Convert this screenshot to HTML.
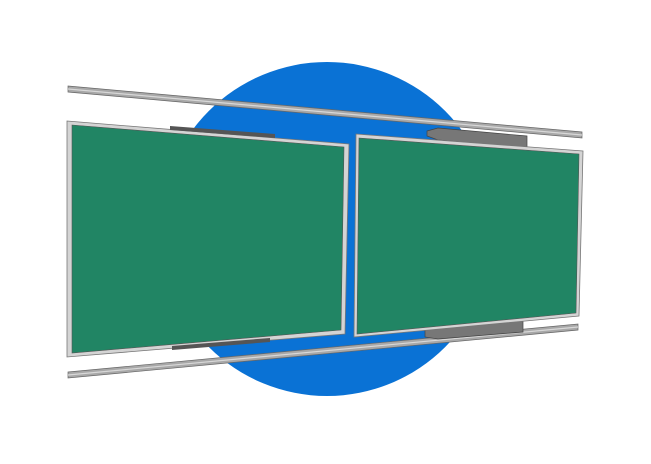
<!DOCTYPE html>
<html><head><style>html,body{margin:0;padding:0;background:#fff}svg{display:block}</style></head>
<body>
<svg width="651" height="464" viewBox="0 0 651 464" xmlns="http://www.w3.org/2000/svg">
<circle cx="327" cy="229" r="167" fill="#0a72d5"/>
<!-- top rail -->
<polygon points="68,86 582,132 582,138 68,92" fill="#a8a8a8" stroke="#666" stroke-width="0.7"/>
<line x1="68" y1="89" x2="582" y2="135" stroke="#d8d8d8" stroke-width="1.2"/>
<!-- bottom rail -->
<polygon points="68,372 578,324 578,330 68,378" fill="#a8a8a8" stroke="#666" stroke-width="0.7"/>
<line x1="68" y1="375" x2="578" y2="327" stroke="#d8d8d8" stroke-width="1.2"/>
<!-- right brackets -->
<polygon points="427,131 438,128 527,136 527,148 438,140 427,136" fill="#777" stroke="#444" stroke-width="0.7"/>
<polygon points="425,330 438,327 523,320 523,332 438,339 425,337" fill="#777" stroke="#444" stroke-width="0.7"/>
<!-- left board -->
<polygon points="67,121 349,144 345,334 67,357" fill="#d4d4d4" stroke="#777" stroke-width="0.8"/>
<polygon points="72,125 344,147 341,330 72,353" fill="#218564" stroke="#555" stroke-width="0.6"/>
<!-- left brackets -->
<polygon points="170,126 275,134 275,138 170,130" fill="#555"/>
<polygon points="172,346 270,338 270,342 172,350" fill="#555"/>
<!-- right board -->
<polygon points="356,134 583,151 579,316 354,337" fill="#d4d4d4" stroke="#777" stroke-width="0.8"/>
<polygon points="359,138 579,154 576,313 357,334" fill="#218564" stroke="#555" stroke-width="0.6"/>
</svg>
</body></html>
